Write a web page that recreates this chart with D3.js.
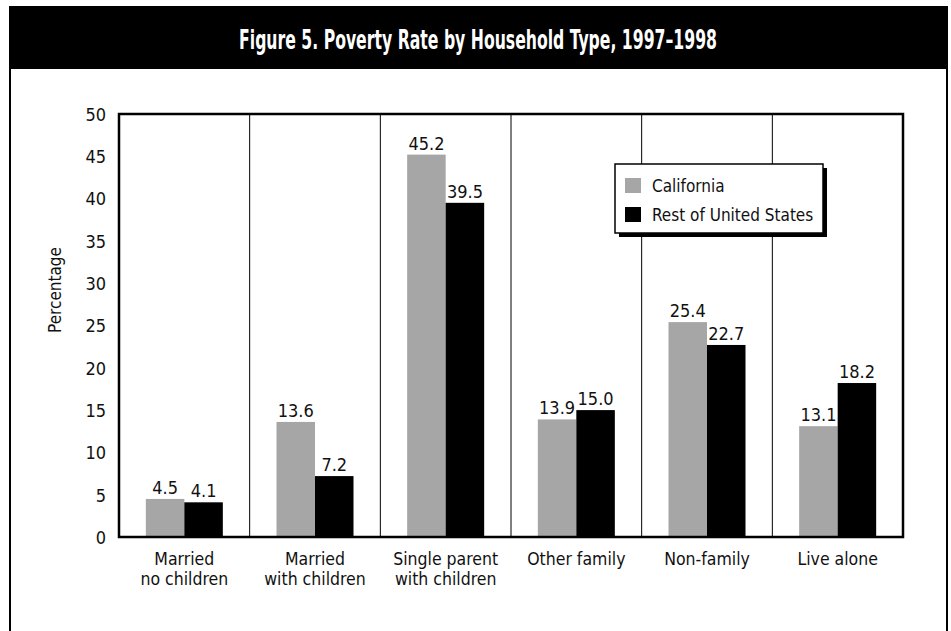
<!DOCTYPE html>
<html><head><meta charset="utf-8">
<script src="https://cdn.jsdelivr.net/npm/d3@7"></script>
<style>
body{margin:0;background:#fff;}
text{font-family:"Liberation Sans Narrow","DejaVu Sans Condensed",sans-serif;fill:#111;}
</style></head>
<body><svg id="c" width="951" height="631"></svg>
<script>
const categories = [["Married","no children"],["Married","with children"],["Single parent","with children"],["Other family"],["Non-family"],["Live alone"]];
const california = [4.5, 13.6, 45.2, 13.9, 25.4, 13.1];
const restOfUS = [4.1, 7.2, 39.5, 15.0, 22.7, 18.2];
const seriesNames = ["California","Rest of United States"];
const seriesColors = ["#a6a6a6","#000000"];
const yTicks = [0,5,10,15,20,25,30,35,40,45,50];
const title = "Figure 5. Poverty Rate by Household Type, 1997–1998";
const yTitle = "Percentage";

const svg = d3.select("#c");
// outer frame
svg.append("rect").attr("x",10).attr("y",7).attr("width",937).attr("height",640)
  .attr("fill","#fff").attr("stroke","#000").attr("stroke-width",2);
svg.append("rect").attr("x",10).attr("y",7).attr("width",937).attr("height",62).attr("fill","#000");
const tt = svg.append("text").attr("x",0).attr("y",0).attr("text-anchor","middle")
  .style("fill","#fff").style("font-weight","bold").style("font-size","27px").text(title);
const tw = tt.node().getComputedTextLength();
tt.attr("transform",`translate(478,49) scale(${478/tw},1)`);

const pL=119, pR=903, pT=114, pB=537;
const x0 = d3.scaleBand().domain(d3.range(categories.length)).range([pL,pR]);
const x1 = d3.scaleBand().domain([0,1]).range([0,77]);
const y = d3.scaleLinear().domain([0,50]).range([pB,pT]);

// separators
svg.append("g").selectAll("line").data(d3.range(1,categories.length)).join("line")
  .attr("x1",d=>x0(d)).attr("x2",d=>x0(d)).attr("y1",pT).attr("y2",pB)
  .attr("stroke","#000").attr("stroke-width",1);

const data = categories.map((c,i)=>({i, vals:[california[i], restOfUS[i]]}));
const g = svg.append("g").selectAll("g").data(data).join("g")
  .attr("transform",d=>`translate(${x0(d.i)+x0.bandwidth()/2-38.5},0)`);
g.selectAll("rect").data(d=>d.vals).join("rect")
  .attr("x",(v,j)=>x1(j)).attr("width",x1.bandwidth())
  .attr("y",v=>y(v)).attr("height",v=>pB-y(v)).attr("fill",(v,j)=>seriesColors[j]);
g.selectAll("text").data(d=>d.vals).join("text")
  .attr("x",(v,j)=>x1(j)+x1.bandwidth()/2).attr("y",v=>y(v)-5)
  .attr("text-anchor","middle").style("font-size","18px").text(v=>v.toFixed(1));

// plot border
svg.append("rect").attr("x",pL).attr("y",pT).attr("width",pR-pL).attr("height",pB-pT)
  .attr("fill","none").attr("stroke","#000").attr("stroke-width",2.5);

// y axis
const yAxis = d3.axisLeft(y).tickValues(yTicks).tickSize(0).tickPadding(13);
const ya = svg.append("g").attr("transform",`translate(${pL},0)`).call(yAxis);
ya.select(".domain").remove();
ya.attr("font-family",null).attr("font-size",null);
ya.selectAll("text").style("font-size","18px").attr("dy","0.35em");

// x axis labels
const xa = svg.append("g").selectAll("text").data(categories).join("text")
  .attr("x",(d,i)=>x0(i)+x0.bandwidth()/2).attr("y",565).attr("text-anchor","middle")
  .style("font-size","17.5px");
xa.selectAll("tspan").data(d=>d).join("tspan")
  .attr("x",function(){return this.parentNode.getAttribute("x");})
  .attr("dy",(d,k)=>k===0?0:20).text(d=>d);

svg.append("text").attr("transform","translate(61,290) rotate(-90)").attr("text-anchor","middle")
  .style("font-size","17px").text(yTitle);

// legend
const lg = svg.append("g").attr("transform","translate(615,164)");
lg.append("rect").attr("x",4).attr("y",4).attr("width",208).attr("height",69).attr("fill","#000");
lg.append("rect").attr("x",0).attr("y",0).attr("width",208).attr("height",69).attr("fill","#fff")
  .attr("stroke","#000").attr("stroke-width",1.5);
seriesNames.forEach((n,j)=>{
  lg.append("rect").attr("x",10).attr("y",14+j*29).attr("width",16).attr("height",15).attr("fill",seriesColors[j]);
  lg.append("text").attr("x",37).attr("y",28+j*29).style("font-size","17px").text(n);
});
</script></body></html>
